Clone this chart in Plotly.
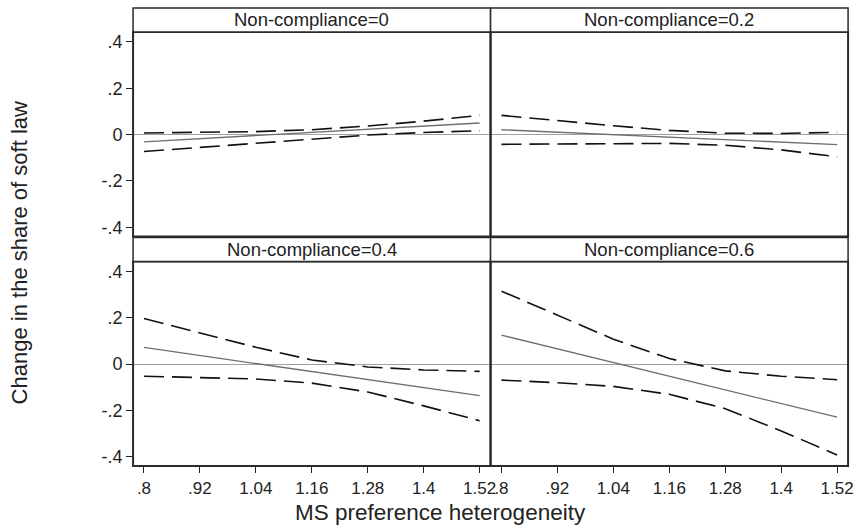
import plotly.graph_objects as go

# ---- data ----
x_vals = [0.8, 0.92, 1.04, 1.16, 1.28, 1.4, 1.52]
x_ticktext = [".8", ".92", "1.04", "1.16", "1.28", "1.4", "1.52"]
y_tickvals = [-0.4, -0.2, 0, 0.2, 0.4]
y_ticktext = ["-.4", "-.2", "0", ".2", ".4"]

panel_titles = ["Non-compliance=0", "Non-compliance=0.2",
                "Non-compliance=0.4", "Non-compliance=0.6"]

est_nc0 = [-0.031, -0.017, -0.004, 0.010, 0.023, 0.037, 0.050]
lo_nc0 = [-0.073, -0.055, -0.036, -0.017, -0.002, 0.009, 0.017]
hi_nc0 = [0.007, 0.009, 0.013, 0.021, 0.037, 0.058, 0.083]

est_nc02 = [0.021, 0.010, 0.000, -0.011, -0.022, -0.032, -0.043]
lo_nc02 = [-0.042, -0.040, -0.037, -0.038, -0.046, -0.066, -0.096]
hi_nc02 = [0.083, 0.060, 0.038, 0.018, 0.006, 0.005, 0.010]

est_nc04 = [0.072, 0.037, 0.002, -0.032, -0.067, -0.101, -0.136]
lo_nc04 = [-0.052, -0.057, -0.064, -0.082, -0.120, -0.180, -0.244]
hi_nc04 = [0.197, 0.136, 0.073, 0.018, -0.012, -0.025, -0.031]

est_nc06 = [0.125, 0.066, 0.007, -0.052, -0.111, -0.170, -0.229]
lo_nc06 = [-0.069, -0.080, -0.096, -0.130, -0.192, -0.288, -0.392]
hi_nc06 = [0.315, 0.210, 0.108, 0.024, -0.029, -0.052, -0.067]

panels = [(est_nc0, lo_nc0, hi_nc0), (est_nc02, lo_nc02, hi_nc02),
          (est_nc04, lo_nc04, hi_nc04), (est_nc06, lo_nc06, hi_nc06)]

# ---- layout geometry (pixels -> paper) ----
W, H = 865, 528
FONT = "Liberation Sans, Arial, sans-serif"
px = lambda v: v / W
py = lambda v: (H - v) / H

col_x = [(134, 494), (494, 854)]
row_plot = [(32, 237), (262, 467)]
row_strip = [(8, 32), (238, 262)]

fig = go.Figure()
shapes = []
annotations = []

for i, (est, lo, hi) in enumerate(panels):
    r, c = divmod(i, 2)
    n = i + 1
    xa = "x" if n == 1 else f"x{n}"
    ya = "y" if n == 1 else f"y{n}"
    dash = dict(color="#111111", width=1.6, dash="20px,8px")
    fig.add_trace(go.Scatter(x=x_vals, y=lo, mode="lines", line=dash,
                             xaxis=xa, yaxis=ya, showlegend=False))
    fig.add_trace(go.Scatter(x=x_vals, y=hi, mode="lines", line=dash,
                             xaxis=xa, yaxis=ya, showlegend=False))
    fig.add_trace(go.Scatter(x=x_vals, y=est, mode="lines",
                             line=dict(color="#6e6e6e", width=1.3),
                             xaxis=xa, yaxis=ya, showlegend=False))

    x0, x1 = col_x[c]
    yt, yb = row_plot[r]
    st, sb = row_strip[r]
    xkey = "xaxis" if n == 1 else f"xaxis{n}"
    ykey = "yaxis" if n == 1 else f"yaxis{n}"
    bottom = r == 1
    left = c == 0
    fig.layout[xkey] = dict(
        domain=[px(x0), px(x1)], anchor=ya, range=[0.7766, 1.5434],
        tickvals=x_vals, ticktext=x_ticktext,
        showticklabels=bottom, ticks="outside" if bottom else "",
        ticklen=6, tickwidth=1, tickcolor="#222",
        tickfont=dict(family=FONT, size=17, color="#222"),
        showgrid=False, zeroline=False, showline=False, fixedrange=True)
    fig.layout[ykey] = dict(
        domain=[py(yb), py(yt)], anchor=xa, range=[-0.440, 0.443],
        tickvals=y_tickvals, ticktext=y_ticktext,
        showticklabels=left, ticks="outside" if left else "",
        ticklen=6, tickwidth=1, tickcolor="#222",
        tickfont=dict(family=FONT, size=18, color="#222"),
        showgrid=False, zeroline=True, zerolinecolor="#a0a0a0",
        zerolinewidth=1, showline=False, fixedrange=True)

    # plot-region border and strip
    shapes.append(dict(type="rect", xref="paper", yref="paper",
                       x0=px(x0), x1=px(x1), y0=py(yb), y1=py(yt),
                       line=dict(color="#2a2a2a", width=2), layer="above"))
    shapes.append(dict(type="rect", xref="paper", yref="paper",
                       x0=px(x0), x1=px(x1), y0=py(sb), y1=py(st),
                       line=dict(color="#2a2a2a", width=1.5),
                       fillcolor="white", layer="above"))
    annotations.append(dict(text=panel_titles[i], xref="paper", yref="paper",
                            x=px((x0 + x1) / 2), y=py((st + sb) / 2),
                            showarrow=False, xanchor="center", yanchor="middle",
                            font=dict(family=FONT, size=18.5, color="#222")))

annotations.append(dict(text="Change in the share of soft law", xref="paper",
                        yref="paper", x=px(20), y=py(253), textangle=-90,
                        showarrow=False, xanchor="center", yanchor="middle",
                        font=dict(family=FONT, size=22, color="#222")))
annotations.append(dict(text="MS preference heterogeneity", xref="paper",
                        yref="paper", x=px(444), y=py(513), showarrow=False,
                        xanchor="center", yanchor="middle",
                        font=dict(family=FONT, size=22.5, color="#222")))

fig.update_layout(width=W, height=H, margin=dict(l=0, r=0, t=0, b=0),
                  paper_bgcolor="white", plot_bgcolor="white",
                  shapes=shapes, annotations=annotations)

fig.write_html("out.html")
